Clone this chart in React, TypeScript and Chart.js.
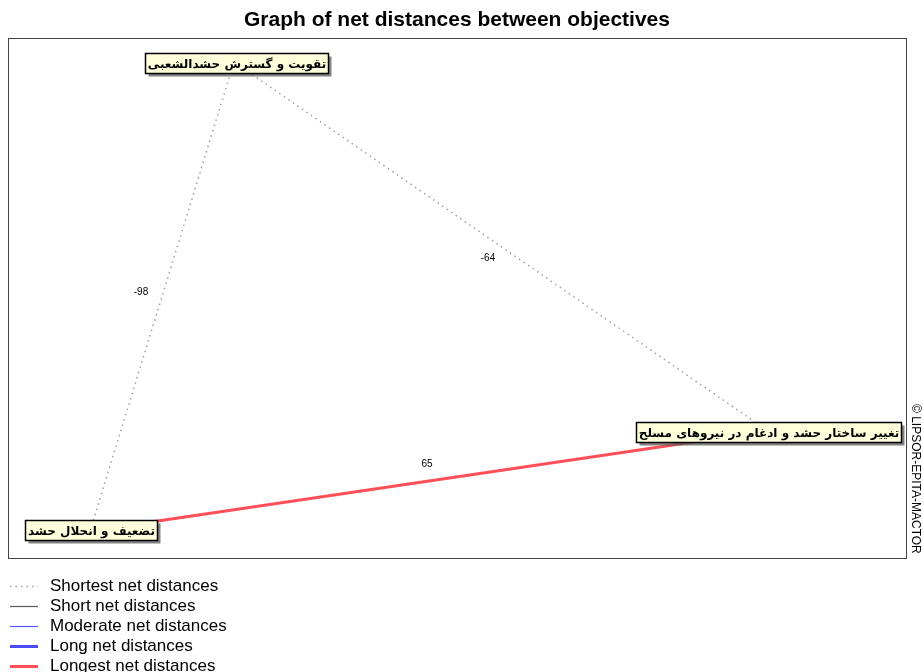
import React, { useEffect, useRef } from "react";
import { Chart, registerables } from "chart.js";

Chart.register(...registerables);

// ---- data ----
const objectives = [
  "تقویت و گسترش حشدالشعبی",
  "تغییر ساختار حشد و ادغام در نیروهای مسلح",
  "تضعیف و انحلال حشد",
];
const nodeX = [226, 760, 82];
const nodeY = [24, 393, 493];
const edgeFrom = [2, 0, 2];
const edgeTo = [0, 1, 1];
const edgeValues = [-98, -64, 65];
const edgeClasses = [0, 0, 4];
const legendLabels = [
  "Shortest net distances",
  "Short net distances",
  "Moderate net distances",
  "Long net distances",
  "Longest net distances",
];
const titleText = "Graph of net distances between objectives";
const copyrightText = "© LIPSOR-EPITA-MACTOR";

// ---- styles ----
const classStyles = [
  { color: "#a0a0a0", width: 1.5, dash: [1.5, 4] },
  { color: "#5a5a5a", width: 1.2, dash: [] as number[] },
  { color: "#5555ff", width: 1.2, dash: [] as number[] },
  { color: "#4a4aff", width: 3, dash: [] as number[] },
  { color: "#ff505a", width: 3, dash: [] as number[] },
];
const EDGE_LABEL_SHIFT = [
  [-21, -4],
  [-13, 12],
  [-2, -17],
];
const NODE_LABEL_SHIFT = [
  [2, 1],
  [0, 1],
  [1, -1],
];

const decorPlugin = {
  id: "decor",
  afterDatasetsDraw(chart: any) {
    const ctx = chart.ctx as CanvasRenderingContext2D;
    const xs = chart.scales.x;
    const ys = chart.scales.y;
    ctx.save();
    // edge value labels
    ctx.font = '10px "Liberation Sans", Arial, sans-serif';
    ctx.fillStyle = "#000";
    ctx.textAlign = "center";
    ctx.textBaseline = "middle";
    edgeValues.forEach((v, i) => {
      const a = edgeFrom[i];
      const b = edgeTo[i];
      const mx = (xs.getPixelForValue(nodeX[a]) + xs.getPixelForValue(nodeX[b])) / 2;
      const my = (ys.getPixelForValue(nodeY[a]) + ys.getPixelForValue(nodeY[b])) / 2;
      ctx.fillText(String(v), mx + EDGE_LABEL_SHIFT[i][0], my + EDGE_LABEL_SHIFT[i][1]);
    });
    // node label boxes
    ctx.font = 'bold 12px "DejaVu Sans", sans-serif';
    objectives.forEach((label, i) => {
      const cx = xs.getPixelForValue(nodeX[i]) + NODE_LABEL_SHIFT[i][0];
      const cy = ys.getPixelForValue(nodeY[i]) + NODE_LABEL_SHIFT[i][1];
      const w = Math.round(ctx.measureText(label).width + 5);
      const h = 20;
      const x0 = Math.round(cx - w / 2) + 0.5;
      const y0 = Math.round(cy - h / 2) + 0.5;
      ctx.fillStyle = "rgba(90,90,90,0.75)";
      ctx.fillRect(x0 + 3, y0 + 3, w, h);
      ctx.fillStyle = "#ffffdc";
      ctx.fillRect(x0, y0, w, h);
      ctx.strokeStyle = "#000";
      ctx.lineWidth = 1.5;
      ctx.strokeRect(x0, y0, w, h);
      ctx.fillStyle = "#000";
      ctx.textAlign = "center";
      ctx.textBaseline = "middle";
      (ctx as any).direction = "rtl";
      ctx.fillText(label, x0 + w / 2, y0 + h / 2 + 1);
      (ctx as any).direction = "ltr";
    });
    ctx.restore();
  },
  afterDraw(chart: any) {
    const ctx = chart.ctx as CanvasRenderingContext2D;
    const area = chart.chartArea;
    ctx.save();
    // frame
    ctx.strokeStyle = "#444";
    ctx.lineWidth = 1;
    ctx.strokeRect(Math.round(area.left) + 0.5, Math.round(area.top) + 0.5, Math.round(area.right - area.left), Math.round(area.bottom - area.top));
    // title
    ctx.fillStyle = "#000";
    ctx.font = 'bold 21px "Liberation Sans", Arial, sans-serif';
    ctx.textAlign = "center";
    ctx.textBaseline = "middle";
    ctx.fillText(titleText, (area.left + area.right) / 2, 20);
    // copyright
    ctx.save();
    ctx.translate(area.right + 9, area.top + 366);
    ctx.rotate(Math.PI / 2);
    ctx.font = '12px "Liberation Sans", Arial, sans-serif';
    ctx.textAlign = "left";
    ctx.textBaseline = "middle";
    ctx.fillText(copyrightText, 0, 0);
    ctx.restore();
    // legend
    legendLabels.forEach((lab, i) => {
      const y = area.bottom + 28 + i * 20;
      const st = classStyles[i];
      ctx.beginPath();
      ctx.strokeStyle = st.color;
      ctx.lineWidth = st.width;
      ctx.setLineDash(st.dash);
      ctx.moveTo(10, Math.round(y) + 0.5);
      ctx.lineTo(38, Math.round(y) + 0.5);
      ctx.stroke();
      ctx.setLineDash([]);
      ctx.fillStyle = "#000";
      ctx.font = '17px "Liberation Sans", Arial, sans-serif';
      ctx.textAlign = "left";
      ctx.textBaseline = "middle";
      ctx.fillText(lab, 50, y);
    });
    ctx.restore();
  },
};

export default function App() {
  const ref = useRef<HTMLCanvasElement | null>(null);
  useEffect(() => {
    document.body.style.margin = "0";
    if (!ref.current) return;
    const datasets = edgeValues.map((v, i) => {
      const st = classStyles[edgeClasses[i]];
      return {
        label: String(v),
        data: [
          { x: nodeX[edgeFrom[i]], y: nodeY[edgeFrom[i]] },
          { x: nodeX[edgeTo[i]], y: nodeY[edgeTo[i]] },
        ],
        showLine: true,
        borderColor: st.color,
        borderWidth: st.width,
        borderDash: st.dash,
        pointRadius: 0,
        fill: false,
      };
    });
    const chart = new Chart(ref.current, {
      type: "scatter",
      data: { datasets },
      options: {
        animation: false,
        responsive: false,
        layout: { padding: { left: 8, top: 38, right: 17, bottom: 114 } },
        scales: {
          x: { type: "linear", min: 0, max: 898, display: false },
          y: { type: "linear", min: 0, max: 520, reverse: true, display: false },
        },
        plugins: {
          legend: { display: false },
          title: { display: false },
          tooltip: { enabled: false },
        },
      },
      plugins: [decorPlugin],
    } as any);
    return () => chart.destroy();
  }, []);
  return (
    <div style={{ width: 923, height: 672, background: "#fff" }}>
      <canvas ref={ref} width={923} height={672} style={{ display: "block" }} />
    </div>
  );
}
